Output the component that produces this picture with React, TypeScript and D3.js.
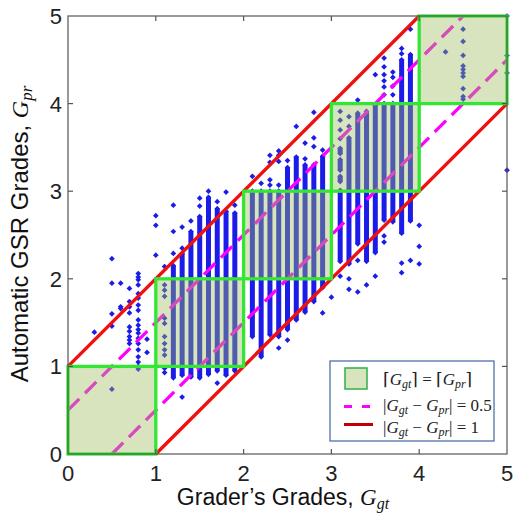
import React from 'react';
import * as d3 from 'd3';

const W = 513;
const H = 516;

const tickValues = [0, 1, 2, 3, 4, 5];
const tickLabels = ['0', '1', '2', '3', '4', '5'];
const boxCells = [0, 1, 2, 3, 4];
const redOffsets = [1, -1];
const dashOffsets = [0.5, -0.5];

// dense stacks of points, read as vertical ranges per grader grade
const segX = [1.2, 1.3, 1.4, 1.5, 1.6, 1.7, 1.8, 1.9, 2.1, 2.2, 2.3, 2.4, 2.5, 2.6, 2.7, 2.8, 2.9, 3.1, 3.1, 3.1, 3.1, 3.2, 3.3, 3.4, 3.5, 3.6, 3.7, 3.8, 3.9];
const segLo = [0.87, 0.9, 0.88, 0.87, 0.91, 0.95, 0.9, 0.95, 1.34, 1.11, 1.36, 1.34, 1.42, 1.53, 1.62, 1.74, 1.9, 2.2, 3.11, 3.24, 3.43, 2.17, 2.4, 2.2, 2.3, 2.67, 2.65, 2.52, 2.66];
const segHi = [2.15, 2.29, 2.54, 2.71, 2.93, 2.8, 2.77, 2.75, 3.0, 3.0, 3.0, 3.0, 3.27, 3.39, 3.3, 3.3, 3.4, 3.01, 3.17, 3.36, 3.49, 3.61, 3.89, 3.91, 3.98, 4.0, 4.0, 4.5, 4.56];

// individual points
const ptX = [
  0.3,
  0.5, 0.5, 0.5, 0.5, 0.5,
  0.6, 0.6, 0.6,
  0.7, 0.7, 0.7, 0.7, 0.7, 0.7, 0.7, 0.7, 0.7,
  0.8, 0.8, 0.8, 0.8, 0.8, 0.8, 0.8, 0.8, 0.8, 0.8, 0.8, 0.8, 0.8, 0.8, 0.8, 0.8, 0.8, 0.8, 0.8,
  0.9, 0.9,
  1.0, 1.0, 1.0,
  1.1, 1.1, 1.1, 1.1, 1.1, 1.1, 1.1, 1.1, 1.1, 1.1, 1.1, 1.1,
  1.2, 1.2, 1.2,
  1.3, 1.3, 1.3,
  1.4,
  1.5, 1.5,
  1.6,
  1.7, 1.7,
  1.8,
  1.9,
  2.1,
  2.2,
  2.3, 2.3, 2.3, 2.3,
  2.4, 2.4, 2.4, 2.4, 2.4,
  2.5, 2.5,
  2.6,
  2.7, 2.7,
  2.8, 2.8, 2.8,
  2.9, 2.9,
  3.0,
  3.1, 3.1, 3.1, 3.1, 3.1,
  3.2, 3.2, 3.2, 3.2,
  3.3, 3.3, 3.3,
  3.4,
  3.5, 3.5,
  3.6, 3.6, 3.6, 3.6, 3.6, 3.6, 3.6, 3.6,
  3.7, 3.7, 3.7, 3.7,
  3.8, 3.8, 3.8, 3.8,
  3.9, 3.9,
  4.0, 4.0, 4.0,
  4.3,
  4.5, 4.5, 4.5, 4.5, 4.5, 4.5, 4.5, 4.5, 4.5, 4.5,
  5.0, 5.0, 5.0, 5.0,
];
const ptY = [
  1.39,
  2.23, 1.95, 1.6, 1.46, 0.74,
  1.95, 1.68, 1.66,
  1.89, 1.74, 1.68, 1.61, 1.45, 1.4, 1.34, 1.3, 1.26,
  2.06, 2.02, 1.99, 1.93, 1.83, 1.78, 1.7, 1.64, 1.53, 1.47, 1.42, 1.38, 1.32, 1.26, 1.19, 1.11, 1.05, 1.0, 0.97,
  1.31, 1.16,
  2.72, 2.61, 2.27,
  2.14, 1.93, 1.87, 1.8, 1.55, 1.49, 1.34, 1.26, 1.19, 1.13, 0.98, 0.93,
  2.84, 2.54, 2.29,
  2.59, 2.35, 0.65,
  2.66,
  2.92, 2.83,
  3.0,
  2.88, 0.81,
  2.99,
  2.84,
  3.17,
  3.09,
  3.41, 3.33, 3.13, 3.07,
  3.46, 3.41, 3.34, 3.07, 1.21,
  3.35, 1.3,
  3.74,
  3.55, 3.37,
  3.9, 3.61, 3.51,
  3.47, 1.61,
  1.79,
  3.91, 3.81, 3.7, 3.6, 2.03,
  3.85, 3.74, 2.0, 1.88,
  4.04, 2.21, 1.85,
  1.93,
  4.33, 2.03,
  4.52, 4.42, 4.33, 4.26, 4.19, 4.1, 2.49, 2.42,
  4.36, 4.3, 4.2, 4.1,
  4.63, 4.57, 2.18, 2.07,
  4.85, 2.21,
  2.61, 2.37, 2.17,
  4.59,
  4.85, 4.71, 4.55, 4.43, 4.39, 4.35, 4.31, 4.17, 4.08, 4.05,
  5.0, 4.55, 4.35, 3.24,
];

const BLUE = '#1c1ce8';
const SANS = "'Liberation Sans', Arial, sans-serif";
const SERIF = "'Liberation Serif', 'DejaVu Serif', serif";

export default function App() {
  const x = d3.scaleLinear().domain([0, 5]).range([68, 507]);
  const y = d3.scaleLinear().domain([0, 5]).range([454, 16]);
  const symType = (d3 as any).symbolDiamond2 || d3.symbolDiamond;
  const diamond = d3.symbol().type(symType).size(21)() || '';
  const line = d3.line<[number, number]>().x((d) => x(d[0])).y((d) => y(d[1]));
  const diag = (o: number) => {
    const x0 = Math.max(0, -o);
    const x1 = Math.min(5, 5 - o);
    return line([[x0, x0 + o], [x1, x1 + o]]) || '';
  };
  const [x0, x1] = x.range();
  const [y0, y1] = y.range();
  const inner = tickValues.slice(1, -1);

  return (
    <svg width={W} height={H} style={{ position: 'absolute', left: 0, top: 0, background: '#fff' }}>
      <rect x={0} y={0} width={W} height={H} fill="#fff" />
      {/* scatter dense stacks */}
      <g>
        {segX.map((sx, i) => (
          <g key={'s' + i}>
            <line x1={x(sx)} x2={x(sx)} y1={y(segLo[i])} y2={y(segHi[i])} stroke={BLUE} strokeWidth={5} />
            <path d={diamond} transform={`translate(${x(sx)},${y(segLo[i])})`} fill={BLUE} />
            <path d={diamond} transform={`translate(${x(sx)},${y(segHi[i])})`} fill={BLUE} />
          </g>
        ))}
        {ptX.map((px, i) => (
          <path key={'p' + i} d={diamond} transform={`translate(${x(px)},${y(ptY[i])})`} fill={BLUE} />
        ))}
      </g>
      {/* dashed magenta lines */}
      {dashOffsets.map((o) => (
        <path key={'m' + o} d={diag(o)} stroke="#ff00ff" strokeWidth={3.3} strokeDasharray="16 8" fill="none" />
      ))}
      {/* red lines */}
      {redOffsets.map((o) => (
        <path key={'r' + o} d={diag(o)} stroke="#f01010" strokeWidth={3.4} fill="none" />
      ))}
      {/* boxes */}
      {boxCells.map((k) => (
        <rect key={'bf' + k} x={x(k)} y={y(k + 1)} width={x(k + 1) - x(k)} height={y(k) - y(k + 1)} fill="#9bbb59" fillOpacity={0.4} />
      ))}
      {boxCells.map((k) => (
        <rect key={'bs' + k} x={x(k)} y={y(k + 1)} width={x(k + 1) - x(k)} height={y(k) - y(k + 1)} fill="none" stroke="#33e633" strokeWidth={3.3} />
      ))}
      {/* axes frame */}
      <rect x={x0} y={y1} width={x1 - x0} height={y0 - y1} fill="none" stroke="#555" strokeWidth={1.2} />
      {inner.map((t) => (
        <g key={'t' + t} stroke="#555" strokeWidth={1.2}>
          <line x1={x(t)} x2={x(t)} y1={y0} y2={y0 - 5} />
          <line x1={x(t)} x2={x(t)} y1={y1} y2={y1 + 5} />
          <line x1={x0} x2={x0 + 5} y1={y(t)} y2={y(t)} />
          <line x1={x1} x2={x1 - 5} y1={y(t)} y2={y(t)} />
        </g>
      ))}
      {tickValues.map((t, i) => (
        <text key={'xl' + t} x={x(t)} y={481} textAnchor="middle" fontFamily={SANS} fontSize={22} fill="#222">
          {tickLabels[i]}
        </text>
      ))}
      {tickValues.map((t, i) => (
        <text key={'yl' + t} x={62} y={y(t) + 8} textAnchor="end" fontFamily={SANS} fontSize={22} fill="#222">
          {tickLabels[i]}
        </text>
      ))}
      {/* axis titles */}
      <text x={283} y={505} textAnchor="middle" fontFamily={SANS} fontSize={23} fill="#111">
        Grader’s Grades,{' '}
        <tspan fontFamily={SERIF} fontStyle="italic">G</tspan>
        <tspan fontFamily={SERIF} fontStyle="italic" fontSize={16} dy={4}>gt</tspan>
      </text>
      <text transform={`translate(28,234) rotate(-90)`} textAnchor="middle" fontFamily={SANS} fontSize={24} fill="#111">
        Automatic GSR Grades,{' '}
        <tspan fontFamily={SERIF} fontStyle="italic">G</tspan>
        <tspan fontFamily={SERIF} fontStyle="italic" fontSize={17} dy={4}>pr</tspan>
      </text>
      {/* legend */}
      <g>
        <rect x={330} y={361} width={164} height={80} fill="#fff" stroke="#4f72a8" strokeWidth={1.3} />
        <rect x={345} y={368} width={22} height={21} fill="#d7e4bd" stroke="#2fb04a" strokeWidth={1.5} />
        <line x1={344} x2={372} y1={406.5} y2={406.5} stroke="#ff00ff" strokeWidth={3} strokeDasharray="8 10" />
        <line x1={344} x2={373} y1={424.5} y2={424.5} stroke="#c00000" strokeWidth={3} />
        <text x={383} y={385} fontFamily={SERIF} fontSize={17} fill="#222">
          ⌈<tspan fontStyle="italic">G</tspan><tspan fontStyle="italic" fontSize={12} dy={3}>gt</tspan><tspan dy={-3}>⌉ = ⌈</tspan><tspan fontStyle="italic">G</tspan><tspan fontStyle="italic" fontSize={12} dy={3}>pr</tspan><tspan dy={-3}>⌉</tspan>
        </text>
        <text x={383} y={411} fontFamily={SERIF} fontSize={17} fill="#222">
          |<tspan fontStyle="italic">G</tspan><tspan fontStyle="italic" fontSize={12} dy={3}>gt</tspan><tspan dy={-3}> − </tspan><tspan fontStyle="italic">G</tspan><tspan fontStyle="italic" fontSize={12} dy={3}>pr</tspan><tspan dy={-3}>| = 0.5</tspan>
        </text>
        <text x={383} y={433} fontFamily={SERIF} fontSize={17} fill="#222">
          |<tspan fontStyle="italic">G</tspan><tspan fontStyle="italic" fontSize={12} dy={3}>gt</tspan><tspan dy={-3}> − </tspan><tspan fontStyle="italic">G</tspan><tspan fontStyle="italic" fontSize={12} dy={3}>pr</tspan><tspan dy={-3}>| = 1</tspan>
        </text>
      </g>
    </svg>
  );
}
